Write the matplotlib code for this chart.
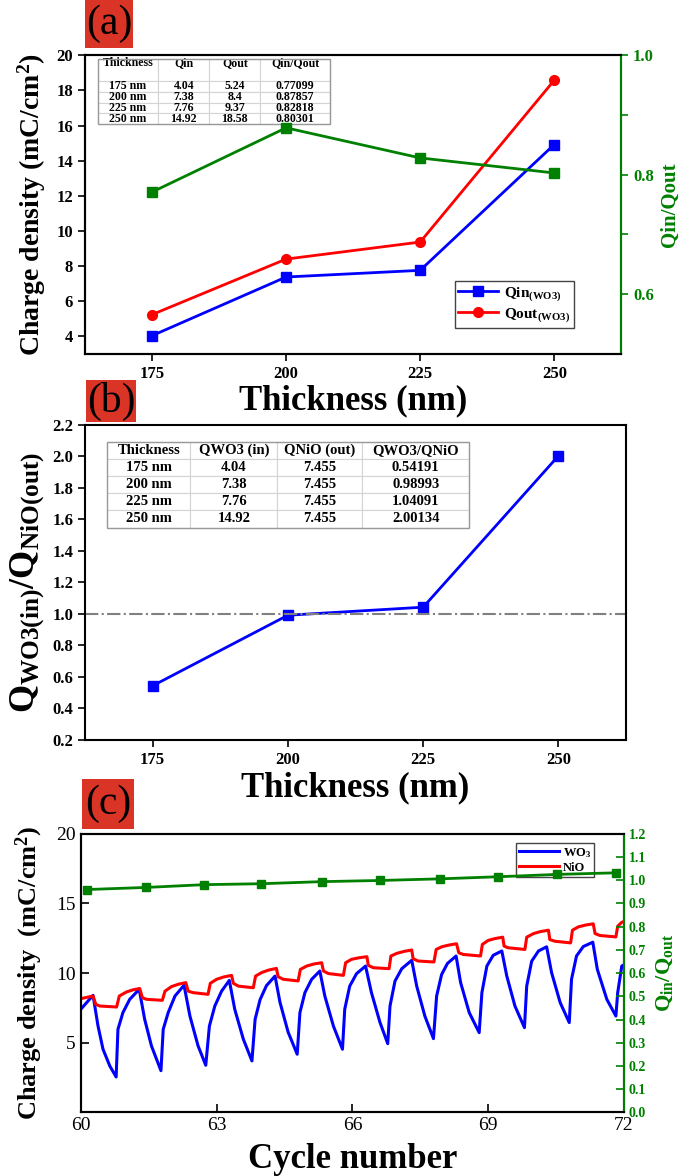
"""Charge density vs WO3 thickness, charge balance and cycling (panels a-c)."""

import matplotlib.pyplot as plt
from matplotlib.patches import Rectangle

plt.rcParams["font.family"] = ["Liberation Serif", "DejaVu Serif"]
plt.rcParams["font.weight"] = "bold"
plt.rcParams["axes.labelweight"] = "bold"
plt.rcParams["mathtext.fontset"] = "custom"
plt.rcParams["mathtext.rm"] = "Liberation Serif:bold"
plt.rcParams["mathtext.bf"] = "Liberation Serif:bold"
plt.rcParams["mathtext.it"] = "Liberation Serif:bold"
plt.rcParams["mathtext.default"] = "bf"
plt.rcParams["axes.linewidth"] = 1.5

# === DATA ===
thickness = [175, 200, 225, 250]
q_in = [4.04, 7.38, 7.76, 14.92]
q_out = [5.24, 8.4, 9.37, 18.58]
q_ratio = [0.77099, 0.87857, 0.82818, 0.80301]
q_nio = [7.455, 7.455, 7.455, 7.455]
q_wo3_nio = [0.54191, 0.98993, 1.04091, 2.00134]

# cycling, charge density (cycle number, mC/cm2)
cyc_wo3 = [60.00, 60.27, 60.38, 60.49, 60.64, 60.78, 60.82, 60.93, 61.08, 61.29,
           61.41, 61.56, 61.77, 61.82, 61.93, 62.08, 62.28,
           62.41, 62.59, 62.76, 62.84, 62.96, 63.11, 63.28,
           63.40, 63.59, 63.78, 63.85, 63.96, 64.10, 64.29,
           64.40, 64.58, 64.78, 64.84, 64.95, 65.10, 65.28,
           65.39, 65.58, 65.78, 65.83, 65.94, 66.09, 66.29,
           66.42, 66.61, 66.78, 66.83, 66.94, 67.09, 67.31,
           67.42, 67.60, 67.79, 67.86, 67.97, 68.10, 68.29,
           68.39, 68.58, 68.80, 68.86, 68.97, 69.11, 69.30,
           69.41, 69.59, 69.80, 69.85, 69.96, 70.11, 70.29,
           70.40, 70.59, 70.79, 70.84, 70.95, 71.10, 71.31,
           71.41, 71.62, 71.82, 71.86, 71.95, 72.00]
q_wo3_cyc = [7.41, 8.41, 6.20, 4.54, 3.34, 2.55, 5.97, 7.17, 8.12, 8.84,
             6.69, 4.78, 3.00, 5.97, 7.17, 8.36, 9.13,
             6.92, 4.78, 3.39, 6.20, 7.64, 8.71, 9.48,
             7.41, 5.26, 3.70, 6.69, 8.10, 9.10, 9.79,
             7.90, 5.76, 4.18, 7.17, 8.60, 9.56, 10.15,
             8.36, 6.20, 4.54, 7.41, 9.07, 9.96, 10.51,
             8.60, 6.45, 4.94, 7.64, 9.43, 10.32, 10.92,
             9.07, 6.92, 5.30, 8.36, 9.90, 10.70, 11.23,
             9.32, 7.17, 5.73, 8.60, 10.51, 11.28, 11.59,
             9.79, 7.64, 6.09, 9.07, 10.86, 11.59, 11.89,
             10.03, 7.88, 6.45, 9.56, 11.23, 11.91, 12.22,
             10.27, 8.12, 6.92, 8.60, 10.51, 10.60]

cyc_nio = [60.00, 60.27, 60.33, 60.42, 60.79, 60.85, 61.01, 61.15, 61.30,
           61.36, 61.45, 61.80, 61.86, 62.00, 62.15, 62.32,
           62.37, 62.48, 62.81, 62.86, 63.00, 63.15, 63.33,
           63.37, 63.48, 63.81, 63.86, 64.00, 64.15, 64.32,
           64.36, 64.47, 64.80, 64.85, 64.99, 65.14, 65.32,
           65.36, 65.47, 65.80, 65.85, 65.98, 66.14, 66.32,
           66.35, 66.46, 66.81, 66.85, 66.98, 67.14, 67.31,
           67.34, 67.45, 67.80, 67.85, 67.98, 68.14, 68.30,
           68.35, 68.45, 68.83, 68.87, 69.00, 69.15, 69.32,
           69.35, 69.44, 69.81, 69.85, 70.00, 70.15, 70.33,
           70.36, 70.47, 70.82, 70.86, 70.99, 71.15, 71.32,
           71.36, 71.47, 71.82, 71.86, 71.95, 72.00]
q_nio_cyc = [8.17, 8.36, 7.76, 7.64, 7.57, 8.36, 8.65, 8.80, 8.90,
             8.24, 8.12, 8.05, 8.71, 9.03, 9.20, 9.32,
             8.71, 8.60, 8.48, 9.27, 9.56, 9.72, 9.84,
             9.27, 9.07, 8.95, 9.79, 10.05, 10.22, 10.34,
             9.74, 9.56, 9.44, 10.27, 10.51, 10.65, 10.75,
             10.15, 9.97, 9.84, 10.75, 10.99, 11.10, 11.18,
             10.56, 10.39, 10.32, 11.23, 11.42, 11.56, 11.66,
             11.04, 10.87, 10.80, 11.70, 11.90, 12.02, 12.11,
             11.46, 11.34, 11.23, 12.06, 12.35, 12.48, 12.58,
             11.94, 11.82, 11.70, 12.58, 12.84, 12.98, 13.08,
             12.41, 12.29, 12.17, 13.08, 13.32, 13.45, 13.54,
             12.84, 12.70, 12.60, 13.37, 13.65, 13.70]

cyc_ratio = [60.14, 61.44, 62.73, 63.99, 65.33, 66.62, 67.93, 69.22, 70.51, 71.82]
ratio_cyc = [0.960, 0.969, 0.981, 0.985, 0.994, 0.999, 1.006, 1.015, 1.025, 1.032]

# === FIGURE ===
fig = plt.figure(figsize=(6.85, 11.76), dpi=100)
ax1 = fig.add_axes([0.124, 0.699, 0.783, 0.254])
ax2 = fig.add_axes([0.124, 0.371, 0.790, 0.268])
ax3 = fig.add_axes([0.118, 0.054, 0.793, 0.237])


def style_table(tab, header_scale, fontsize):
    tab.auto_set_font_size(False)
    tab.set_fontsize(fontsize)
    for (r, c), cell in tab.get_celld().items():
        cell.set_edgecolor("#d4d4d4")
        cell.set_linewidth(0.8)
        cell.get_text().set_fontweight("bold")
        if r == 0:
            cell.set_height(cell.get_height() * header_scale)


# --- (a) ---
ax1.plot(thickness, q_in, color="blue", marker="s", ms=7, lw=2, label="Qin$_{(WO3)}$")
ax1.plot(thickness, q_out, color="red", marker="o", ms=7, lw=2, label="Qout$_{(WO3)}$")
ax1.set_xlim(162.5, 262.5)
ax1.set_ylim(3, 20)
ax1.set_xticks(thickness)
ax1.set_yticks(range(4, 21, 2))
ax1.tick_params(direction="out", length=5, width=1.2, labelsize=12)
ax1.set_ylabel("Charge density (mC/cm$^2$)", fontsize=20, labelpad=6)
ax1.set_xlabel("Thickness (nm)", fontsize=25, labelpad=2)
ax1.legend(loc="lower right", bbox_to_anchor=(0.912, 0.087), fontsize=11,
           fancybox=False, edgecolor="#444444", framealpha=1, handlelength=2.6,
           borderpad=0.25, labelspacing=0.25, borderaxespad=0, handletextpad=0.4)

ax1r = ax1.twinx()
ax1r.plot(thickness, q_ratio, color="green", marker="s", ms=7, lw=2)
ax1r.set_ylim(0.5, 1.0)
ax1r.set_yticks([0.6, 0.7, 0.8, 0.9, 1.0])
ax1r.set_yticklabels(["0.6", "", "0.8", "", "1.0"])
ax1r.tick_params(direction="out", length=5, width=1.2, labelsize=12,
                 colors="green")
ax1r.spines["right"].set_color("green")
ax1r.set_ylabel("Qin/Qout", color="green", fontsize=15)

rows_a = [[f"{t} nm", str(a), str(b), str(c)]
          for t, a, b, c in zip(thickness, q_in, q_out, q_ratio)]
tab_a = ax1.table(cellText=rows_a, colLabels=["Thickness\n", "Qin\n", "Qout\n", "Qin/Qout\n"],
                  cellLoc="center", colWidths=[0.26, 0.22, 0.22, 0.30],
                  bbox=[0.024, 0.769, 0.433, 0.218])
style_table(tab_a, 2.0, 8.6)
ax1.add_patch(Rectangle((0.024, 0.769), 0.433, 0.218, transform=ax1.transAxes,
                        fill=False, edgecolor="#999999", lw=1, zorder=10))

# --- (b) ---
ax2.plot(thickness, q_wo3_nio, color="blue", marker="s", ms=7, lw=2)
ax2.axhline(1.0, color="gray", ls="-.", lw=1.5)
ax2.set_xlim(162.5, 262.5)
ax2.set_ylim(0.2, 2.2)
ax2.set_xticks(thickness)
ax2.set_yticks([0.2 + 0.2 * i for i in range(11)])
ax2.set_yticklabels([f"{0.2 + 0.2 * i:.1f}" for i in range(11)])
ax2.tick_params(direction="out", length=5, width=1.2, labelsize=12)
ax2.set_ylabel("Q$_{WO3(in)}$/Q$_{NiO(out)}$", fontsize=26, labelpad=4)
ax2.set_xlabel("Thickness (nm)", fontsize=25, labelpad=3)

rows_b = [[f"{t} nm", str(a), str(b), str(c)]
          for t, a, b, c in zip(thickness, q_in, q_nio, q_wo3_nio)]
tab_b = ax2.table(cellText=rows_b, colLabels=["Thickness", "QWO3 (in)", "QNiO (out)", "QWO3/QNiO"],
                  cellLoc="center", colWidths=[0.23, 0.24, 0.235, 0.295],
                  bbox=[0.041, 0.673, 0.669, 0.273])
style_table(tab_b, 1.0, 10.5)
ax2.add_patch(Rectangle((0.041, 0.673), 0.669, 0.273, transform=ax2.transAxes,
                        fill=False, edgecolor="#999999", lw=1, zorder=10))

# --- (c) ---
ax3.plot(cyc_wo3, q_wo3_cyc, color="blue", lw=2.2, label="WO$_3$")
ax3.plot(cyc_nio, q_nio_cyc, color="red", lw=2.2, label="NiO")
ax3.set_xlim(60, 72)
ax3.set_ylim(0, 20)
ax3.set_xticks([60, 63, 66, 69, 72])
ax3.set_yticks([5, 10, 15, 20])
ax3.tick_params(direction="in", length=6, width=1.2, labelsize=14)
for lbl in ax3.get_xticklabels() + ax3.get_yticklabels():
    lbl.set_fontweight("normal")
ax3.set_ylabel("Charge density  (mC/cm$^2$)", fontsize=19, labelpad=8)
ax3.set_xlabel("Cycle number", fontsize=25, labelpad=6)
ax3.legend(loc="upper right", bbox_to_anchor=(0.945, 0.968), fontsize=9,
           fancybox=False, edgecolor="#444444", framealpha=1, handlelength=3.2,
           borderpad=0.25, labelspacing=0.15, borderaxespad=0, handletextpad=0.3)

ax3r = ax3.twinx()
ax3r.plot(cyc_ratio, ratio_cyc, color="green", marker="s", ms=6, lw=2)
ax3r.set_ylim(0, 1.2)
ax3r.set_yticks([0.1 * i for i in range(13)])
ax3r.set_yticklabels([f"{0.1 * i:.1f}" for i in range(13)])
ax3r.tick_params(direction="in", length=6, width=1.2, labelsize=10, colors="green")
ax3r.spines["right"].set_color("green")
ax3r.set_ylabel("Q$_{in}$/Q$_{out}$", color="green", fontsize=16, labelpad=6)

# --- panel tags ---
for x, y, w, h, tag in [(0.124, 0.959, 0.070, 0.041, "(a)"),
                        (0.125, 0.641, 0.074, 0.036, "(b)"),
                        (0.120, 0.295, 0.075, 0.043, "(c)")]:
    fig.patches.append(Rectangle((x, y), w, h, transform=fig.transFigure,
                                 facecolor="#d93425", edgecolor="none"))
    fig.text(x + w / 2, y + h / 2, tag, ha="center", va="center",
             fontsize=30, fontweight="normal")

plt.savefig("out.png", dpi=100)
print("Saved: out.png")
